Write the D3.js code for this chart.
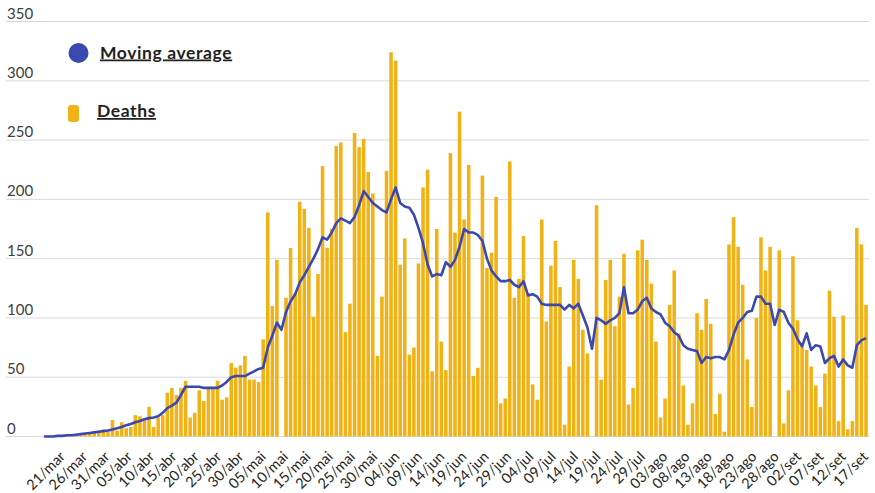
<!DOCTYPE html>
<html><head><meta charset="utf-8">
<script src="https://cdn.jsdelivr.net/npm/d3@7"></script>
<style>body{margin:0;background:#fff}svg{display:block}</style>
</head><body>
<svg id="c" width="875" height="493"></svg>
<script>
// daily deaths, 21/mar .. 17/set
const deaths = [
  0,1,0,0,0,1,2,1,1,2,3,
  3,5,6,4,14,5,12,7,8,18,17,15,
  25,8,16,18,37,41,35,41,
  47,16,20,39,30,41,41,47,31,33,
  62,58,60,68,48,48,46,
  82,189,110,149,0,117,159,121,
  198,192,176,101,137,228,159,175,245,248,88,112,256,244,
  251,223,205,68,118,224,324,317,145,167,69,75,146,210,225,55,175,80,56,239,172,274,183,
  229,
  51,58,220,142,155,202,28,32,232,117,133,169,121,44,31,183,97,144,165,126,
  10,59,149,133,90,70,
  0,
  195,48,132,149,93,118,154,27,41,157,166,149,129,80,16,32,111,140,
  87,43,10,28,104,90,116,95,19,36,4,162,185,160,128,65,25,100,168,140,160,
  0,
  157,11,39,152,98,76,73,59,43,25,53,123,101,13,102,6,13,176,162,111
];
const movingAverage = [
  0,0,0,0.5,0.5,1,1,1.5,2,2.5,3,
  3.5,4,4.5,5,6,7,8,9.5,10.5,12,13,14.5,
  15.5,16,17,20,24,26,28.5,35,
  42,42,42,42,41,41,41,41,43,46,
  50,51,51,51,53,55,57,
  58,75,85,96,90,105,114,120,
  130,136,143,150,158,168,166,172,180,184,182,180,185,195,
  207,202,197,194,191,189,200,210,197,194,193,187,176,163,145,135,137,136,147,143,149,160,175,
  172,
  172,170,165,150,140,135,131,131,132,128,126,131,119,120,118,112,111,111,111,111,
  107,111,108,112,102,92,
  74,
  100,98,95,98,100,104,126,104,104,107,114,117,108,105,103,96,93,88,
  85,77,74,73,72,62,67,66,67,67,65,73,86,96,100,105,106,118,118,112,112,
  94,
  107,105,96,91,82,76,87,73,77,76,62,66,68,59,65,60,58,77,81,83
];
const tickLabels = ["21/mar","26/mar","31/mar","05/abr","10/abr","15/abr","20/abr","25/abr","30/abr",
  "05/mai","10/mai","15/mai","20/mai","25/mai","30/mai","04/jun","09/jun","14/jun","19/jun","24/jun",
  "29/jun","04/jul","09/jul","14/jul","19/jul","24/jul","29/jul","03/ago","08/ago","13/ago","18/ago",
  "23/ago","28/ago","02/set","07/set","12/set","17/set"];
const yTicks = [0,50,100,150,200,250,300,350];
const seriesNames = ["Moving average","Deaths"];

const barColor = "#F1B215", lineColor = "#3A49B0";
const font = "Lato, 'Open Sans', sans-serif";
const svg = d3.select("#c");
const idx = d3.range(deaths.length);
const x = d3.scalePoint().domain(idx).range([44, 866]);
const xLab = d3.scalePoint().domain(tickLabels).range([66, 869]);
const bw = x.step() * 0.78;
const y = d3.scaleLinear().domain([0, 350]).range([436.5, 21.5]);

// grid + y labels
const g = svg.append("g");
g.selectAll("line.grid").data(yTicks).join("line")
  .attr("x1", 6).attr("x2", 869)
  .attr("y1", d => y(d)).attr("y2", d => y(d))
  .attr("stroke", "#d9d9d9").attr("stroke-width", 1);
g.selectAll("text.yl").data(yTicks).join("text")
  .attr("x", 7).attr("y", d => y(d) - 3)
  .attr("font-family", font).attr("font-size", 15).attr("fill", "#404040")
  .text(d => d);

// bars
svg.append("g").selectAll("rect").data(deaths).join("rect")
  .attr("x", (d, i) => x(i) - bw / 2)
  .attr("width", bw)
  .attr("y", d => y(d))
  .attr("height", d => y(0) - y(d))
  .attr("fill", barColor);

// moving average line
svg.append("path").datum(movingAverage)
  .attr("d", d3.line().x((d, i) => x(i)).y(d => y(d)))
  .attr("fill", "none").attr("stroke", lineColor)
  .attr("stroke-width", 2.6).attr("stroke-linejoin", "round");

// x labels
svg.append("g").selectAll("text").data(tickLabels).join("text")
  .attr("transform", d => `translate(${xLab(d)},457.5) rotate(-45)`)
  .attr("text-anchor", "end")
  .attr("font-family", font).attr("font-size", 14.5).attr("fill", "#262626")
  .text(d => d);

// legend
const lg = svg.append("g");
lg.append("circle").attr("cx", 78.5).attr("cy", 53).attr("r", 10).attr("fill", lineColor);
lg.append("rect").attr("x", 68).attr("y", 105).attr("width", 11).attr("height", 17).attr("rx", 3).attr("fill", barColor);
lg.selectAll("text").data(seriesNames).join("text")
  .attr("x", (d, i) => i ? 97 : 100)
  .attr("y", (d, i) => i ? 117 : 58.5)
  .attr("font-family", font).attr("font-size", 17.5).attr("font-weight", "bold")
  .attr("letter-spacing", 0.6)
  .attr("fill", "#222").attr("text-decoration", "underline")
  .text(d => d);
</script>
</body></html>
